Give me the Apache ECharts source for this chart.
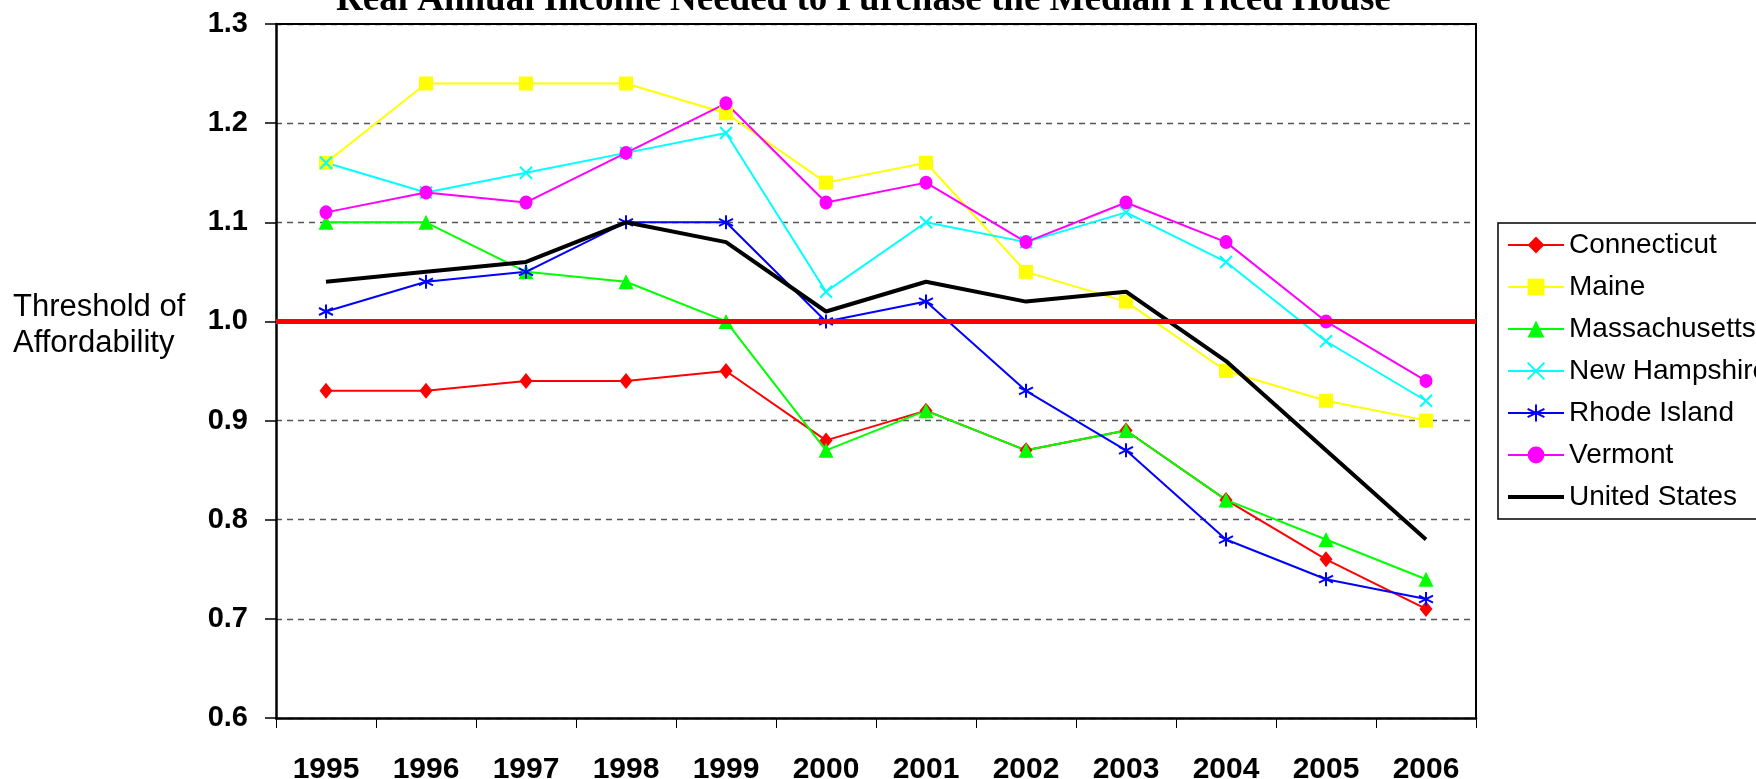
<!DOCTYPE html>
<html>
<head>
<meta charset="utf-8">
<script src="https://cdn.jsdelivr.net/npm/echarts@6/dist/echarts.min.js"></script>
<style>
html,body{margin:0;padding:0;background:#fff;}
#chart{width:1756px;height:779px;}
</style>
</head>
<body>
<div id="chart"></div>
<script>
const titleText = 'Real Annual Income Needed to Purchase the Median Priced House';
const years = ['1995','1996','1997','1998','1999','2000','2001','2002','2003','2004','2005','2006'];
const connecticut   = [0.93, 0.93, 0.94, 0.94, 0.95, 0.88, 0.91, 0.87, 0.89, 0.82, 0.76, 0.71];
const maine         = [1.16, 1.24, 1.24, 1.24, 1.21, 1.14, 1.16, 1.05, 1.02, 0.95, 0.92, 0.90];
const massachusetts = [1.10, 1.10, 1.05, 1.04, 1.00, 0.87, 0.91, 0.87, 0.89, 0.82, 0.78, 0.74];
const newHampshire  = [1.16, 1.13, 1.15, 1.17, 1.19, 1.03, 1.10, 1.08, 1.11, 1.06, 0.98, 0.92];
const rhodeIsland   = [1.01, 1.04, 1.05, 1.10, 1.10, 1.00, 1.02, 0.93, 0.87, 0.78, 0.74, 0.72];
const vermont       = [1.11, 1.13, 1.12, 1.17, 1.22, 1.12, 1.14, 1.08, 1.12, 1.08, 1.00, 0.94];
const unitedStates  = [1.04, 1.05, 1.06, 1.10, 1.08, 1.01, 1.04, 1.02, 1.03, 0.96, 0.87, 0.78];
const threshold = 1.0;
const thresholdLabel = 'Threshold of\nAffordability';
const yMin = 0.6, yMax = 1.3, yStep = 0.1;

const X_PATH = 'path://M0,0L10,10M10,0L0,10';
const STAR_PATH = 'path://M5,0L5,10M0.7,2.5L9.3,7.5M9.3,2.5L0.7,7.5';
const LINE_ICON = 'path://M0,0L56,0L56,4L0,4Z';

function mk(name, data, color, symbol, size, stroked) {
  return {
    name: name, type: 'line', data: data,
    symbol: symbol, symbolSize: size, showSymbol: true,
    lineStyle: { color: color, width: 2 },
    itemStyle: stroked ? { color: color, borderColor: color, borderWidth: 2 } : { color: color, borderWidth: 0 },
    emphasis: { disabled: true },
    z: 2
  };
}

const series = [
  mk('Connecticut', connecticut, '#FF0000', 'diamond', [13, 16], false),
  mk('Maine', maine, '#FFFF00', 'rect', 14, false),
  mk('Massachusetts', massachusetts, '#00FF00', 'triangle', [15, 15], false),
  mk('New Hampshire', newHampshire, '#00FFFF', X_PATH, 12, true),
  mk('Rhode Island', rhodeIsland, '#0000FF', STAR_PATH, 14, true),
  mk('Vermont', vermont, '#FF00FF', 'circle', [13, 14], false),
  {
    name: 'United States', type: 'line', data: unitedStates,
    symbol: 'none', showSymbol: false,
    lineStyle: { color: '#000000', width: 4 },
    itemStyle: { color: '#000000' },
    emphasis: { disabled: true },
    z: 3,
    markLine: {
      silent: true, symbol: ['none', 'none'],
      label: { show: false },
      lineStyle: { color: '#FF0000', width: 5, type: 'solid' },
      emphasis: { disabled: true },
      data: [{ yAxis: threshold }]
    }
  }
];

const chart = echarts.init(document.getElementById('chart'), null, { renderer: 'canvas' });
chart.setOption({
  animation: false,
  backgroundColor: '#ffffff',
  title: {
    text: titleText,
    left: 336, top: -18, padding: 0,
    textStyle: { fontFamily: 'Liberation Serif', fontWeight: 'bold', fontSize: 37, color: '#000' }
  },
  grid: { left: 276, right: 280, top: 24, bottom: 61, containLabel: false, outerBoundsMode: 'none' },
  legend: {
    orient: 'vertical',
    left: 1498, top: 223,
    padding: [8, 12, 8, 9],
    itemWidth: 56, itemHeight: 21, itemGap: 14,
    borderColor: '#000', borderWidth: 1.5, backgroundColor: '#fff',
    textStyle: { fontFamily: 'Liberation Sans', fontSize: 28, color: '#000', lineHeight: 28 },
    data: ['Connecticut','Maine','Massachusetts','New Hampshire','Rhode Island','Vermont',
      { name: 'United States', icon: LINE_ICON, itemStyle: { color: '#000' } }]
  },
  xAxis: [{
    type: 'category', data: years, boundaryGap: true,
    axisLine: { show: true, onZero: false, lineStyle: { color: '#000', width: 2.5 } },
    axisTick: { show: true, length: 10, alignWithLabel: false, lineStyle: { color: '#000', width: 1 } },
    axisLabel: { margin: 37, fontFamily: 'Liberation Sans', fontWeight: 'bold', fontSize: 30, color: '#000', interval: 0 },
    splitLine: { show: false }
  }, {
    type: 'category', data: years, position: 'top', boundaryGap: true,
    axisLine: { show: true, onZero: false, lineStyle: { color: '#000', width: 2 } },
    axisTick: { show: false }, axisLabel: { show: false }, splitLine: { show: false }
  }],
  yAxis: [{
    type: 'value', min: yMin, max: yMax, interval: yStep,
    axisLine: { show: true, onZero: false, lineStyle: { color: '#000', width: 2.5 } },
    axisTick: { show: true, length: 11, lineStyle: { color: '#000', width: 1.5 } },
    axisLabel: { margin: 28, fontFamily: 'Liberation Sans', fontWeight: 'bold', fontSize: 29, color: '#000',
      formatter: function (v) { return v.toFixed(1); } },
    splitLine: { show: true, lineStyle: { color: '#555', width: 1.3, type: [6, 5] } }
  }, {
    type: 'value', min: yMin, max: yMax, interval: yStep, position: 'right',
    axisLine: { show: true, onZero: false, lineStyle: { color: '#000', width: 2 } },
    axisTick: { show: false }, axisLabel: { show: false }, splitLine: { show: false }
  }],
  graphic: [{
    type: 'text', left: 13, top: 289,
    style: { text: thresholdLabel, font: '31px "Liberation Sans"', lineHeight: 36, fill: '#000' }
  }],
  series: series
});
</script>
</body>
</html>
